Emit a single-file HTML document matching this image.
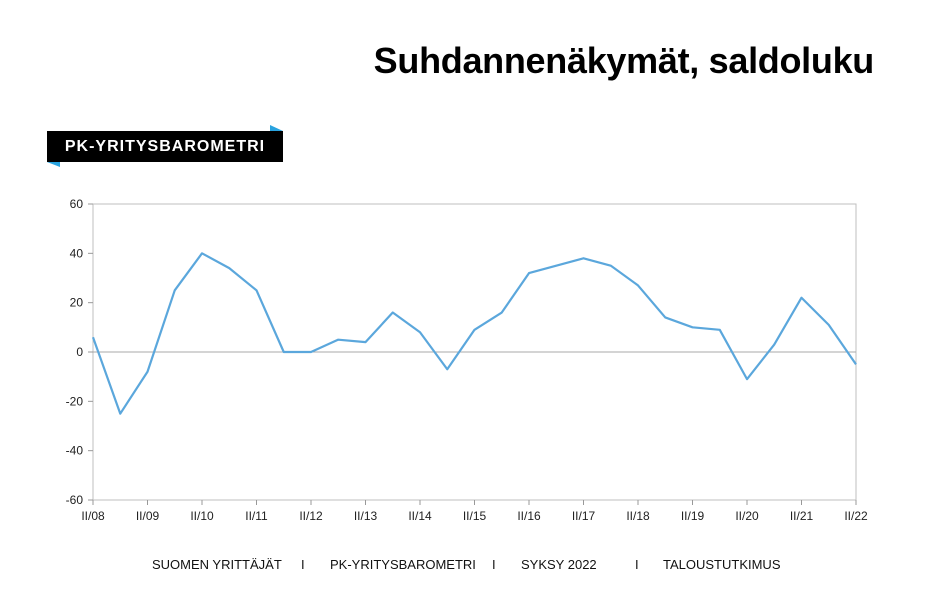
<!DOCTYPE html>
<html><head><meta charset="utf-8"><style>
body{margin:0;background:#fff;width:932px;height:606px;overflow:hidden;font-family:"Liberation Sans",Arial,sans-serif;position:relative}
.title{position:absolute;right:58px;top:40px;font-size:36px;font-weight:bold;letter-spacing:-0.3px;color:#000;white-space:nowrap}
.badge{position:absolute;left:47px;top:131px;width:236px;height:31px;background:#000;color:#fff;font-weight:bold;font-size:16px;letter-spacing:1px;line-height:31px;text-align:center}
.footer{position:absolute;top:557px;font-size:13px;color:#111}
</style></head><body>
<div class="title">Suhdannenäkymät, saldoluku</div>
<svg style="position:absolute;left:0;top:0" width="932" height="606">
<polygon points="270,125 283,131 270,131" fill="#29a3df"/>
<polygon points="47,162 60,162 60,167" fill="#29a3df"/>
</svg>
<div class="badge">PK-YRITYSBAROMETRI</div>
<svg id="chart" style="position:absolute;left:0;top:0" width="932" height="606"></svg>
<div class="footer" style="left:152px">SUOMEN YRITTÄJÄT</div>
<div class="footer" style="left:301px">I</div>
<div class="footer" style="left:330px">PK-YRITYSBAROMETRI</div>
<div class="footer" style="left:492px">I</div>
<div class="footer" style="left:521px">SYKSY 2022</div>
<div class="footer" style="left:635px">I</div>
<div class="footer" style="left:663px">TALOUSTUTKIMUS</div>
<script>
const values=[6,-25,-8,25,40,34,25,0,0,5,4,16,8,-7,9,16,32,35,38,35,27,14,10,9,-11,3,22,11,-5];
const xLabels=["II/08","II/09","II/10","II/11","II/12","II/13","II/14","II/15","II/16","II/17","II/18","II/19","II/20","II/21","II/22"];
const yTicks=[60,40,20,0,-20,-40,-60];
const svg=document.getElementById('chart');const NS='http://www.w3.org/2000/svg';
const L=93,R=856,T=204,B=500,ymin=-60,ymax=60;
const xs=i=>L+(R-L)*i/(values.length-1);
const ys=v=>B-(v-ymin)/(ymax-ymin)*(B-T);
function mk(t,a){const e=document.createElementNS(NS,t);for(const k in a)e.setAttribute(k,a[k]);svg.appendChild(e);return e;}
let f=mk('rect',{x:L,y:T,width:R-L,height:B-T,fill:'none',stroke:'#bfbfbf','stroke-width':1});


yTicks.forEach(v=>{
 let t=mk('line',{x1:L-5,x2:L,y1:ys(v),y2:ys(v),stroke:'#999'});
 
 
 let tx=mk('text',{x:L-10,y:ys(v)+4,'text-anchor':'end','font-size':12,fill:'#222','font-family':'Liberation Sans'});
 tx.textContent=v;
 
 
});
let z=mk('line',{x1:L,x2:R,y1:ys(0),y2:ys(0),stroke:'#aaa'});


xLabels.forEach((lab,j)=>{
 const x=xs(j*2);
 let t=mk('line',{x1:x,x2:x,y1:B,y2:B+5,stroke:'#999'});
 
 
 let tx=mk('text',{x:x,y:B+20,'text-anchor':'middle','font-size':12,fill:'#222','font-family':'Liberation Sans'});
 tx.textContent=lab;
 
 
});
let p=mk('polyline',{points:values.map((v,i)=>xs(i)+','+ys(v)).join(' '),fill:'none',stroke:'#5ba7dc','stroke-width':2.2,'stroke-linejoin':'round'});


</script>
</body></html>
